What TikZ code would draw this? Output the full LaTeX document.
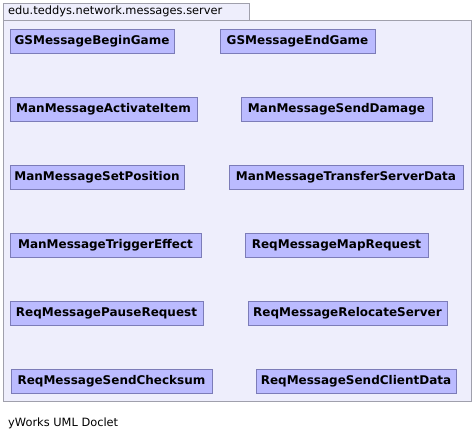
\documentclass[tikz,border=0pt]{standalone}
\usepackage{fontspec}
\setmainfont{DejaVu Sans}
\definecolor{pkgfill}{RGB}{238,238,252}
\definecolor{pkgline}{RGB}{160,160,172}
\definecolor{clsfill}{RGB}{187,187,255}
\definecolor{clsline}{RGB}{124,124,184}
\tikzset{
  cls/.style={draw=clsline, fill=clsfill, line width=0.8pt, inner sep=0pt,
    font=\fontsize{12}{14}\selectfont\bfseries, text=black},
  pkg/.style={draw=pkgline, fill=pkgfill, line width=0.8pt},
  lbl/.style={font=\fontsize{11.4}{13}\selectfont, text=black, inner sep=0pt, anchor=west}
}
\newcommand{\clsbox}[6]{% name, x1, y1, x2, y2, text
  \node[cls, minimum width=#4pt-#2pt, minimum height=#5pt-#3pt] (#1) at ({(#2+#4)/2*1pt}, {-(#3+#5)/2*1pt}) {#6};}
\begin{document}
\begin{tikzpicture}[x=1pt,y=-1pt]
\useasboundingbox (0,0) rectangle (474,439);
\fill[white] (0,0) rectangle (474,439);
% package tab and frame
\draw[pkg] (3,3) rectangle (249,20);
\draw[pkg] (3,20) rectangle (471,401);
\node[lbl] (pkgname) at (8,11.5) {edu.teddys.network.messages.server};
% classes
\clsbox{a1}{10}{29}{174}{53}{GSMessageBeginGame}
\clsbox{a2}{220}{29}{375}{53}{GSMessageEndGame}
\clsbox{b1}{10}{97}{197}{121}{ManMessageActivateItem}
\clsbox{b2}{241}{97}{432}{121}{ManMessageSendDamage}
\clsbox{c1}{10}{165}{184}{189}{ManMessageSetPosition}
\clsbox{c2}{229}{165}{463}{189}{ManMessageTransferServerData}
\clsbox{d1}{10}{233}{201}{257}{ManMessageTriggerEffect}
\clsbox{d2}{245}{233}{428}{257}{ReqMessageMapRequest}
\clsbox{e1}{10}{301}{203}{325}{ReqMessagePauseRequest}
\clsbox{e2}{248}{301}{447}{325}{ReqMessageRelocateServer}
\clsbox{f1}{11}{369}{212}{393}{ReqMessageSendChecksum}
\clsbox{f2}{256}{369}{456}{393}{ReqMessageSendClientData}
\node[lbl] (footer) at (8,423) {yWorks UML Doclet};
\end{tikzpicture}
\end{document}
